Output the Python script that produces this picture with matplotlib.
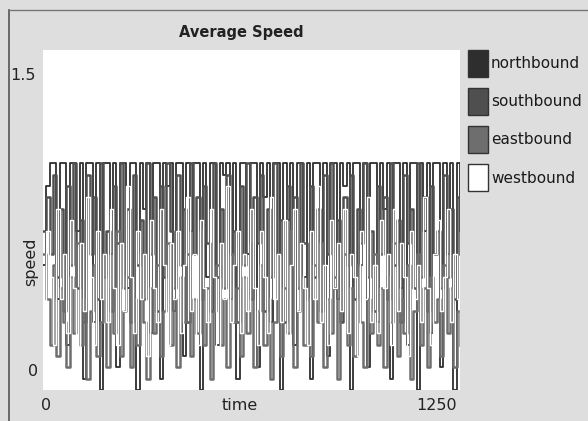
import numpy as np
import matplotlib
matplotlib.use("Agg")
import matplotlib.pyplot as plt
from matplotlib.patches import Rectangle

plt.rcParams["font.family"] = ["Liberation Sans Narrow", "DejaVu Sans"]

# ----------------------------------------------------- data
time = np.arange(0, 1251, 10)

northbound = [
    0.55, 0.9, 1.0, 1.0, 0.4, 1.0, 1.0, 0.2, 1.0, 1.0, 0.7, 1.0, 0.05, 1.0, 1.0, 0.3, 1.0, 0.0, 1.0, 1.0,
    0.6, 1.0, 0.1, 1.0, 1.0, 0.45, 1.0, 1.0, 0.0, 1.0, 0.8, 1.0, 0.25, 1.0, 1.0, 0.05, 1.0, 0.9, 1.0, 0.35,
    1.0, 1.0, 0.15, 1.0, 0.7, 1.0, 1.0, 0.0, 1.0, 0.5, 1.0, 1.0, 0.2, 1.0, 0.95, 1.0, 0.4, 1.0, 0.05, 1.0,
    1.0, 0.6, 1.0, 1.0, 0.1, 1.0, 0.85, 1.0, 0.3, 1.0, 1.0, 0.0, 1.0, 0.75, 1.0, 0.2, 1.0, 1.0, 0.5, 1.0,
    0.05, 1.0, 1.0, 0.65, 1.0, 0.15, 1.0, 1.0, 0.4, 1.0, 0.9, 1.0, 0.0, 1.0, 1.0, 0.55, 1.0, 0.1, 1.0, 1.0,
    0.3, 1.0, 0.8, 1.0, 0.05, 1.0, 1.0, 0.45, 1.0, 0.2, 1.0, 1.0, 0.0, 1.0, 0.7, 1.0, 0.25, 1.0, 1.0, 0.1,
    1.0, 0.6, 1.0, 0.0, 1.0, 0.7,
]
southbound = [
    0.7, 0.85, 0.6, 0.95, 0.5, 0.8, 0.35, 0.9, 0.55, 1.0, 0.45, 0.75, 0.3, 0.95, 0.6, 0.85, 0.4, 1.0, 0.5, 0.7,
    0.35, 0.9, 0.65, 1.0, 0.45, 0.8, 0.3, 0.95, 0.55, 0.75, 0.4, 1.0, 0.6, 0.85, 0.35, 0.9, 0.5, 1.0, 0.7, 0.45,
    0.95, 0.55, 0.8, 0.3, 1.0, 0.6, 0.85, 0.4, 0.9, 0.65, 0.35, 1.0, 0.5, 0.8, 0.45, 0.95, 0.6, 0.7, 0.3, 0.9,
    0.55, 1.0, 0.4, 0.85, 0.65, 0.95, 0.35, 0.8, 0.5, 1.0, 0.6, 0.75, 0.3, 0.9, 0.55, 0.85, 0.45, 1.0, 0.65, 0.4,
    0.9, 0.5, 0.8, 0.35, 0.95, 0.6, 1.0, 0.45, 0.75, 0.3, 0.85, 0.55, 0.95, 0.4, 0.8, 0.65, 1.0, 0.5, 0.7, 0.35,
    0.9, 0.6, 0.85, 0.4, 1.0, 0.55, 0.75, 0.3, 0.95, 0.65, 0.8, 0.45, 1.0, 0.5, 0.85, 0.35, 0.9, 0.6, 0.7, 0.45,
    0.95, 0.5, 0.8, 0.4, 0.85, 0.6,
]
eastbound = [
    0.6, 0.4, 0.2, 0.55, 0.15, 0.45, 0.3, 0.1, 0.5, 0.25, 0.65, 0.2, 0.4, 0.05, 0.35, 0.55, 0.15, 0.3, 0.6, 0.1,
    0.45, 0.25, 0.7, 0.15, 0.35, 0.5, 0.1, 0.4, 0.2, 0.6, 0.3, 0.05, 0.45, 0.25, 0.55, 0.15, 0.35, 0.65, 0.2, 0.4,
    0.1, 0.5, 0.3, 0.6, 0.15, 0.4, 0.25, 0.7, 0.2, 0.45, 0.05, 0.35, 0.55, 0.2, 0.4, 0.1, 0.6, 0.3, 0.45, 0.15,
    0.5, 0.25, 0.65, 0.1, 0.35, 0.55, 0.2, 0.4, 0.05, 0.3, 0.6, 0.15, 0.45, 0.25, 0.7, 0.1, 0.35, 0.5, 0.2, 0.4,
    0.15, 0.55, 0.3, 0.65, 0.1, 0.4, 0.25, 0.5, 0.05, 0.35, 0.6, 0.2, 0.45, 0.15, 0.55, 0.3, 0.1, 0.4, 0.25, 0.6,
    0.2, 0.45, 0.1, 0.5, 0.3, 0.65, 0.15, 0.4, 0.25, 0.55, 0.05, 0.35, 0.6, 0.2, 0.45, 0.1, 0.5, 0.3, 0.4, 0.15,
    0.55, 0.25, 0.45, 0.1, 0.35, 0.2,
]
westbound = [
    0.3, 0.7, 0.5, 0.2, 0.8, 0.4, 0.6, 0.25, 0.75, 0.45, 0.15, 0.65, 0.35, 0.85, 0.5, 0.2, 0.7, 0.4, 0.6, 0.3,
    0.8, 0.45, 0.2, 0.65, 0.35, 0.9, 0.5, 0.25, 0.7, 0.4, 0.6, 0.15, 0.75, 0.45, 0.3, 0.8, 0.55, 0.2, 0.65, 0.4,
    0.7, 0.25, 0.55, 0.85, 0.35, 0.6, 0.2, 0.75, 0.45, 0.3, 0.8, 0.5, 0.15, 0.65, 0.4, 0.9, 0.3, 0.55, 0.7, 0.25,
    0.6, 0.35, 0.8, 0.45, 0.2, 0.7, 0.5, 0.25, 0.85, 0.4, 0.6, 0.3, 0.75, 0.15, 0.55, 0.8, 0.35, 0.65, 0.45, 0.2,
    0.7, 0.4, 0.9, 0.3, 0.55, 0.2, 0.75, 0.45, 0.65, 0.35, 0.8, 0.25, 0.6, 0.5, 0.15, 0.7, 0.4, 0.85, 0.3, 0.55,
    0.25, 0.75, 0.45, 0.6, 0.2, 0.8, 0.35, 0.65, 0.5, 0.15, 0.7, 0.4, 0.55, 0.3, 0.85, 0.45, 0.2, 0.6, 0.75, 0.35,
    0.5, 0.8, 0.3, 0.6, 0.4, 0.2,
]

series = [("northbound", northbound, "#2e2e2e", 1.3),
          ("southbound", southbound, "#4f4f4f", 1.8),
          ("eastbound", eastbound, "#6e6e6e", 1.8),
          ("westbound", westbound, "#ffffff", 1.0)]

# ----------------------------------------------------- figure
W, H = 588, 421
fig = plt.figure(figsize=(W / 100, H / 100), dpi=100, facecolor="#dedede")


def px(x, y):
    return x / W, 1 - y / H


x0, y0 = px(43, 390)
x1, y1 = px(460, 50)
ax = fig.add_axes([x0, y0, x1 - x0, y1 - y0])
ax.set_facecolor("white")
for sp in ax.spines.values():
    sp.set_visible(False)
ax.set_xticks([]); ax.set_yticks([])
ax.set_xlim(0, 1250)
ax.set_ylim(0, 1.5)

for name, vals, col, lw in series:
    ax.plot(time, vals, color=col, lw=lw, drawstyle="steps-post")

# title, axis texts (NetLogo style)
txt = dict(ha="center", va="center", fontsize=11.5, color="#222222")
fig.text(*px(241, 33), "Average Speed", ha="center", va="center", fontsize=10.5,
         fontweight="bold", color="#222222")
fig.text(*px(23, 75), "1.5", **txt)
fig.text(*px(33, 372), "0", **txt)
fig.text(*px(46, 405), "0", **txt)
fig.text(*px(437, 405), "1250", **txt)
fig.text(*px(240, 405), "time", **txt)
fig.text(*px(31, 262), "speed", rotation=90, **txt)

# legend
for i, (name, vals, col, lw) in enumerate(series):
    yc = 64 + i * 38
    lx, ly = px(468, yc + 13)
    fig.add_artist(Rectangle((lx, ly), 20 / W, 27 / H, transform=fig.transFigure,
                             facecolor=col, edgecolor="#333333", lw=1.0))
    fig.text(*px(491, yc), name, ha="left", va="center", fontsize=11, color="#1a1a1a")

# outer frame lines
fig.add_artist(plt.Line2D([px(9, 0)[0]] * 2, [px(0, 10)[1], 0], transform=fig.transFigure,
                          color="#555555", lw=1.2))
fig.add_artist(plt.Line2D([px(9, 0)[0], 1], [px(0, 10)[1]] * 2, transform=fig.transFigure,
                          color="#777777", lw=1.0))

fig.savefig("out.png", dpi=100, facecolor=fig.get_facecolor())
